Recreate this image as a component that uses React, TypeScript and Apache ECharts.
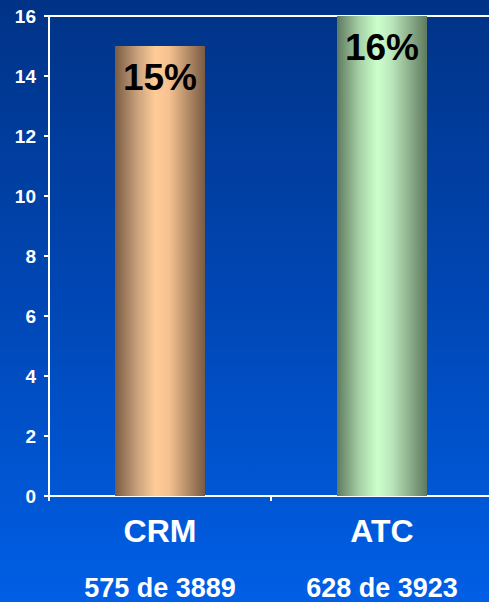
import React, { useEffect, useRef } from "react";
import * as echarts from "echarts";

const categories = ["CRM", "ATC"];
const counts = ["575 de 3889", "628 de 3923"];
const values = [15, 16];
const yTicks = { min: 0, max: 16, interval: 2 };

const barGradients = [
  ["#7a5b43", "#c9a27c", "#ffcc99", "#f5c190", "#7a5b43"],
  ["#5f7a5f", "#a6d1a6", "#ccffcc", "#bde8bd", "#5f7a5f"],
];

const FONT = "Arial, 'Liberation Sans', Helvetica, sans-serif";

export default function App() {
  const ref = useRef<HTMLDivElement>(null);
  useEffect(() => {
    if (!ref.current) return;
    const chart = echarts.init(ref.current, undefined, { renderer: "svg" });
    const mkGrad = (cols: string[]) =>
      new echarts.graphic.LinearGradient(0, 0, 1, 0, [
        { offset: 0, color: cols[0] },
        { offset: 0.25, color: cols[1] },
        { offset: 0.45, color: cols[2] },
        { offset: 0.6, color: cols[3] },
        { offset: 1, color: cols[4] },
      ]);
    chart.setOption({
      animation: false,
      backgroundColor: new echarts.graphic.LinearGradient(0, 0, 0, 1, [
        { offset: 0, color: "#003386" },
        { offset: 0.5, color: "#0047b5" },
        { offset: 1, color: "#005fe6" },
      ]),
      textStyle: { fontFamily: FONT },
      grid: {
        left: 49,
        width: 444,
        top: 16,
        bottom: 106,
        containLabel: false,
        outerBoundsMode: "none",
      },
      xAxis: [
        {
          type: "category",
          data: categories,
          axisLine: { show: true, lineStyle: { color: "#ffffff", width: 2 } },
          axisTick: { show: true, length: 5, lineStyle: { color: "#ffffff", width: 2 } },
          axisLabel: {
            margin: 6,
            formatter: (v: string, i: number) => `{a|${v}}\n{b|${counts[i]}}`,
            rich: {
              a: { color: "#ffffff", fontWeight: "bold", fontSize: 32, lineHeight: 57, fontFamily: FONT },
              b: { color: "#ffffff", fontWeight: "bold", fontSize: 27, lineHeight: 57, fontFamily: FONT },
            },
          },
        },
        {
          type: "category",
          position: "top",
          data: categories,
          axisLine: { show: true, lineStyle: { color: "#ffffff", width: 2 } },
          axisTick: { show: false },
          axisLabel: { show: false },
        },
      ],
      yAxis: {
        type: "value",
        min: yTicks.min,
        max: yTicks.max,
        interval: yTicks.interval,
        axisLine: { show: true, lineStyle: { color: "#ffffff", width: 2 } },
        axisTick: { show: true, length: 5, lineStyle: { color: "#ffffff", width: 2 } },
        splitLine: { show: false },
        axisLabel: {
          color: "#ffffff",
          fontWeight: "bold",
          fontSize: 19,
          margin: 13,
          fontFamily: FONT,
        },
      },
      series: [
        {
          type: "bar",
          barWidth: 90,
          data: values.map((v, i) => ({
            value: v,
            itemStyle: { color: mkGrad(barGradients[i]) },
          })),
          label: {
            show: true,
            position: "insideTop",
            distance: 13,
            formatter: (p: any) => `${p.value}%`,
            color: "#000000",
            fontWeight: "bold",
            fontSize: 37,
            fontFamily: FONT,
          },
        },
      ],
    });
    return () => chart.dispose();
  }, []);
  return (
    <div
      ref={ref}
      style={{ position: "fixed", left: 0, top: 0, width: 489, height: 602 }}
    />
  );
}
